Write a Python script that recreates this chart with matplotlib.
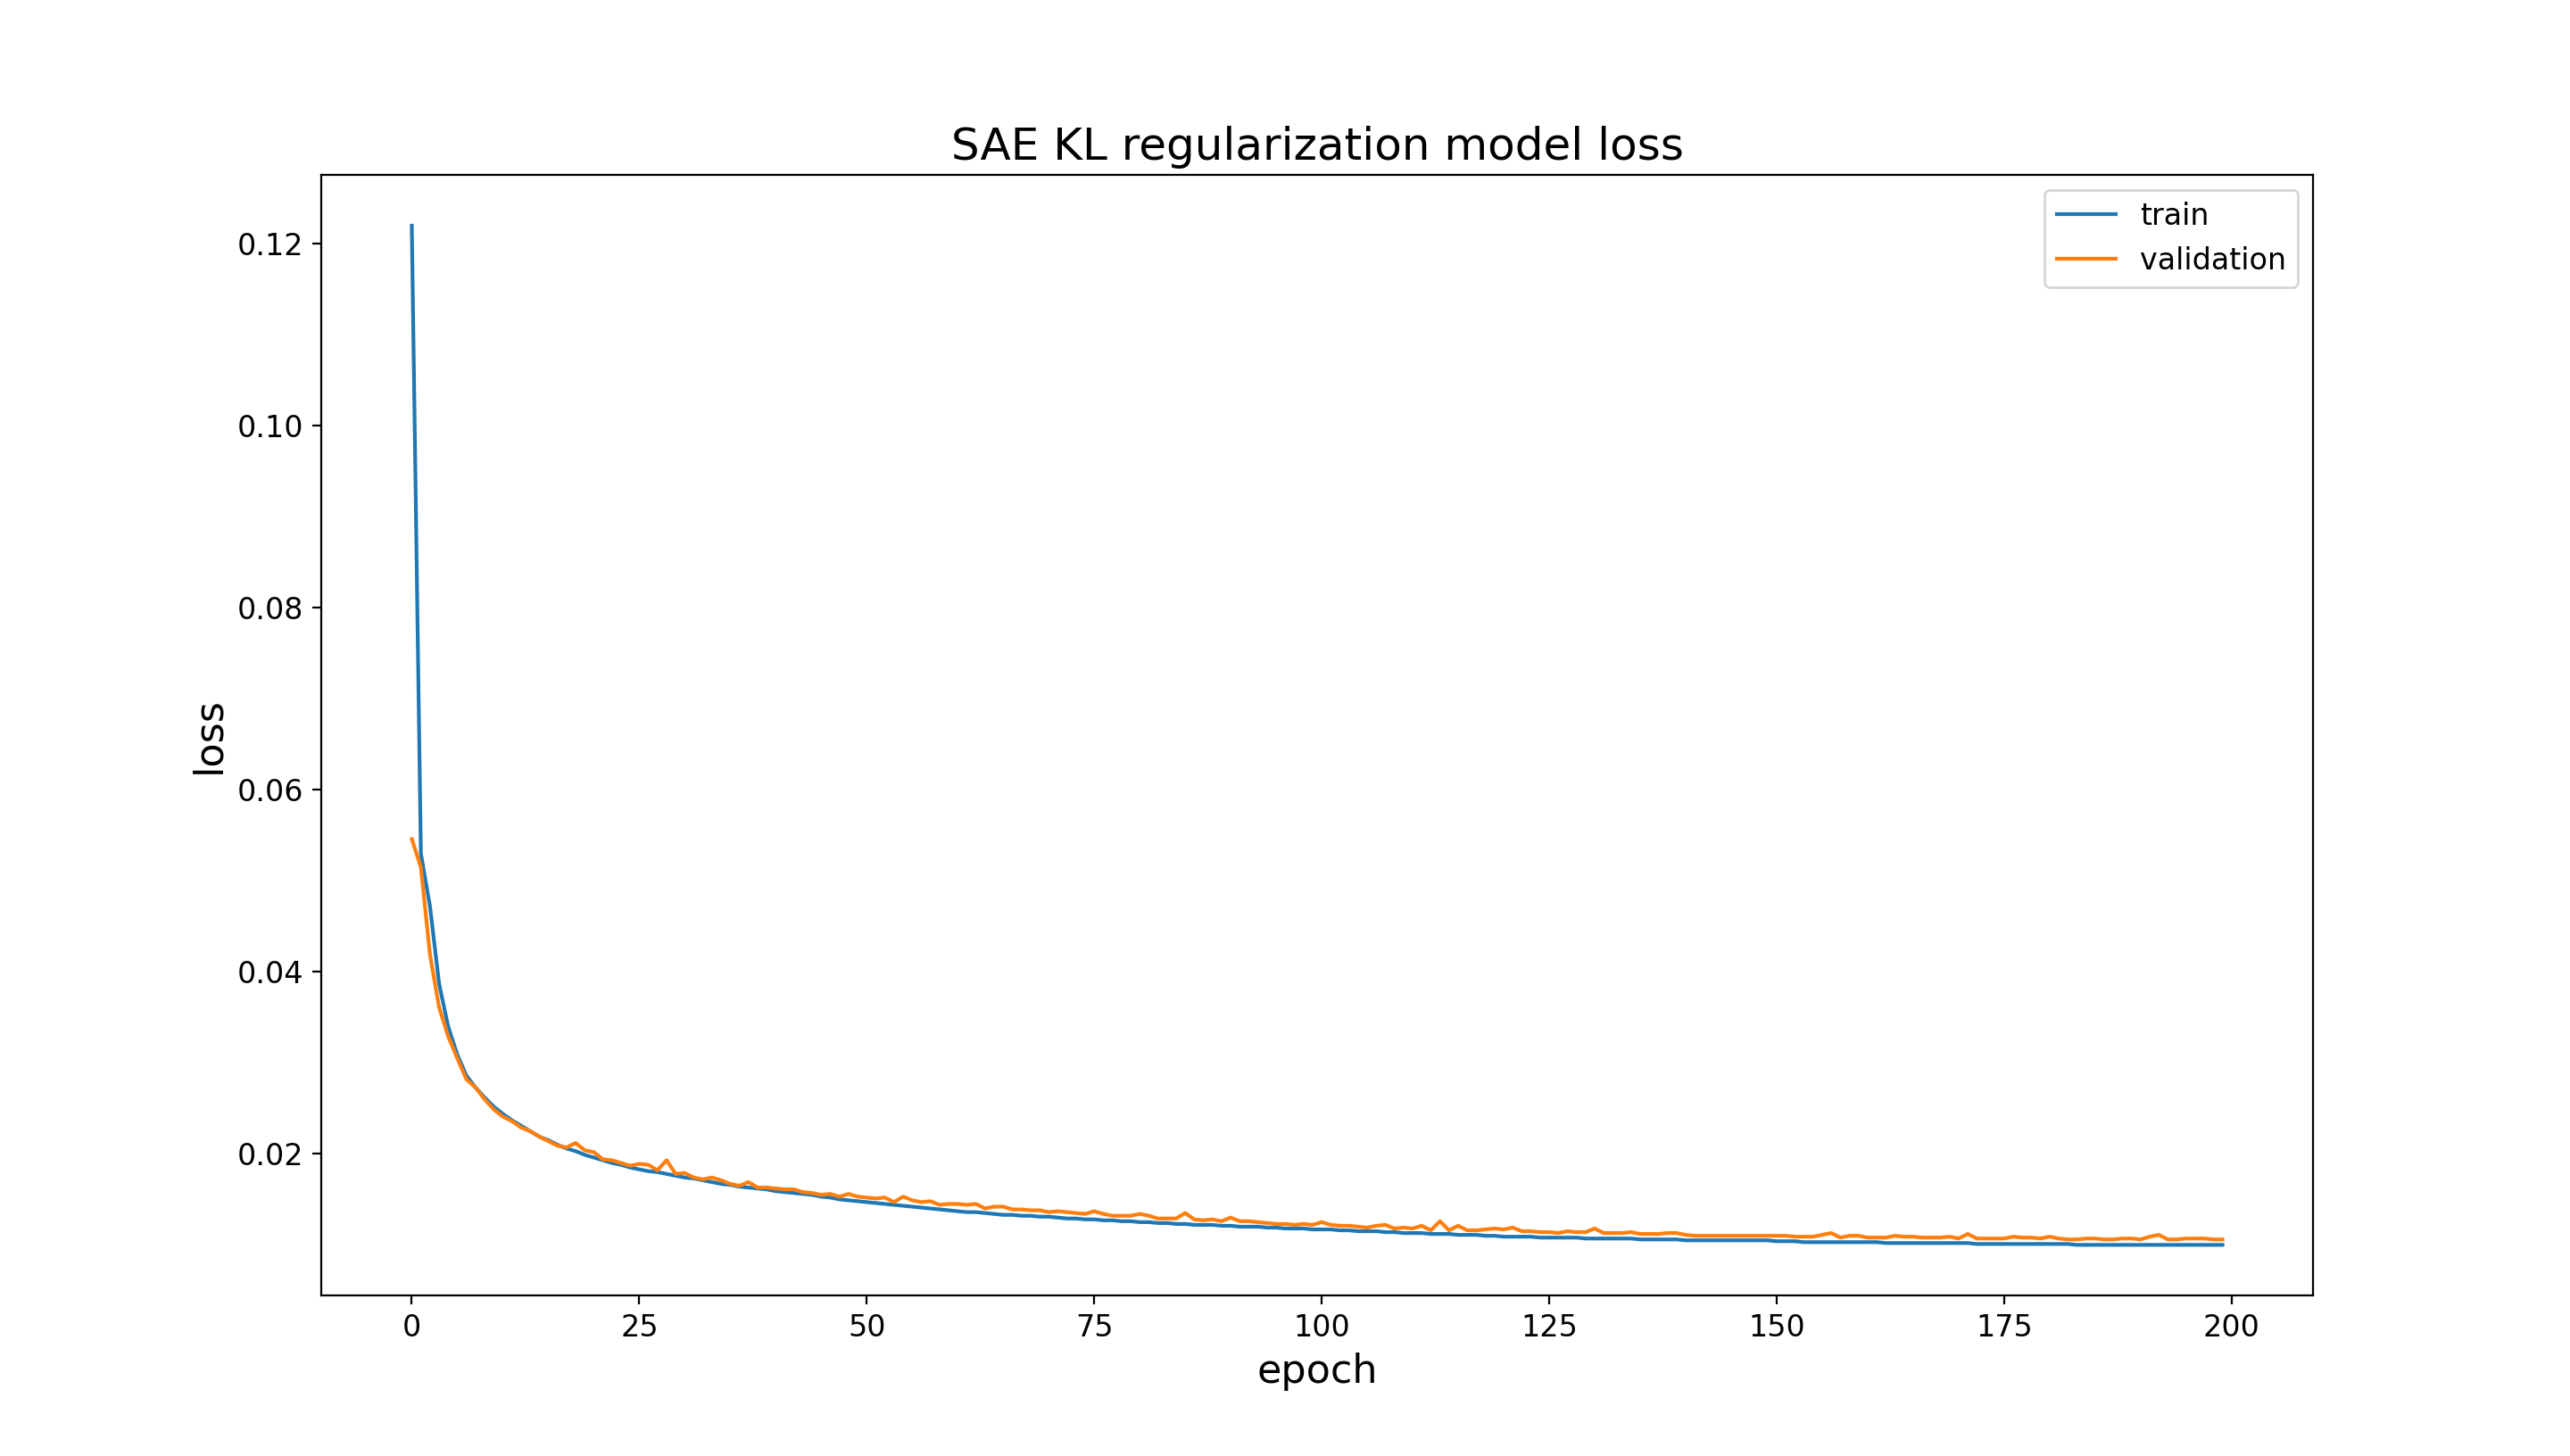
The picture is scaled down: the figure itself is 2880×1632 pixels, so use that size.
import matplotlib
matplotlib.use("Agg")
from matplotlib import pyplot as plt

# loss per epoch
train_loss = [
    0.1220, 0.0530, 0.0472, 0.0387, 0.0340, 0.0309, 0.0286, 0.0273, 0.0262, 0.0252,
    0.0244, 0.0237, 0.0231, 0.0225, 0.0219, 0.0215, 0.0210, 0.0206, 0.0203, 0.0199,
    0.0196, 0.0193, 0.0190, 0.0188, 0.0185, 0.0183, 0.0181, 0.0180, 0.0178, 0.0176,
    0.0174, 0.0173, 0.0171, 0.0169, 0.0167, 0.0166, 0.0164, 0.0163, 0.0162, 0.0161,
    0.0159, 0.0158, 0.0157, 0.0156, 0.0155, 0.0153, 0.0152, 0.0150, 0.0149, 0.0148,
    0.0147, 0.0146, 0.0145, 0.0144, 0.0143, 0.0142, 0.0141, 0.0140, 0.0139, 0.0138,
    0.0137, 0.0136, 0.0136, 0.0135, 0.0134, 0.0133, 0.0133, 0.0132, 0.0132, 0.0131,
    0.0131, 0.0130, 0.0129, 0.0129, 0.0128, 0.0128, 0.0127, 0.0127, 0.0126, 0.0126,
    0.0125, 0.0125, 0.0124, 0.0124, 0.0123, 0.0123, 0.0122, 0.0122, 0.0122, 0.0121,
    0.0121, 0.0120, 0.0120, 0.0120, 0.0119, 0.0119, 0.0118, 0.0118, 0.0118, 0.0117,
    0.0117, 0.0117, 0.0116, 0.0116, 0.0115, 0.0115, 0.0115, 0.0114, 0.0114, 0.0113,
    0.0113, 0.0113, 0.0112, 0.0112, 0.0112, 0.0111, 0.0111, 0.0111, 0.0110, 0.0110,
    0.0109, 0.0109, 0.0109, 0.0109, 0.0108, 0.0108, 0.0108, 0.0108, 0.0108, 0.0107,
    0.0107, 0.0107, 0.0107, 0.0107, 0.0107, 0.0106, 0.0106, 0.0106, 0.0106, 0.0106,
    0.0105, 0.0105, 0.0105, 0.0105, 0.0105, 0.0105, 0.0105, 0.0105, 0.0105, 0.0105,
    0.0104, 0.0104, 0.0104, 0.0103, 0.0103, 0.0103, 0.0103, 0.0103, 0.0103, 0.0103,
    0.0103, 0.0103, 0.0102, 0.0102, 0.0102, 0.0102, 0.0102, 0.0102, 0.0102, 0.0102,
    0.0102, 0.0102, 0.0101, 0.0101, 0.0101, 0.0101, 0.0101, 0.0101, 0.0101, 0.0101,
    0.0101, 0.0101, 0.0101, 0.0100, 0.0100, 0.0100, 0.0100, 0.0100, 0.0100, 0.0100,
    0.0100, 0.0100, 0.0100, 0.0100, 0.0100, 0.0100, 0.0100, 0.0100, 0.0100, 0.0100,
]

val_loss = [
    0.0546, 0.0515, 0.0419, 0.0361, 0.0329, 0.0305, 0.0282, 0.0273, 0.0260, 0.0249,
    0.0241, 0.0236, 0.0229, 0.0225, 0.0219, 0.0214, 0.0209, 0.0207, 0.0212, 0.0204,
    0.0202, 0.0194, 0.0193, 0.0190, 0.0187, 0.0189, 0.0188, 0.0182, 0.0193, 0.0178,
    0.0179, 0.0174, 0.0172, 0.0174, 0.0171, 0.0167, 0.0165, 0.0169, 0.0163, 0.0163,
    0.0162, 0.0161, 0.0161, 0.0158, 0.0157, 0.0155, 0.0156, 0.0153, 0.0156, 0.0153,
    0.0152, 0.0151, 0.0152, 0.0147, 0.0153, 0.0149, 0.0147, 0.0148, 0.0144, 0.0145,
    0.0145, 0.0144, 0.0145, 0.0140, 0.0142, 0.0142, 0.0139, 0.0139, 0.0138, 0.0138,
    0.0136, 0.0137, 0.0136, 0.0135, 0.0134, 0.0137, 0.0134, 0.0132, 0.0132, 0.0132,
    0.0134, 0.0132, 0.0129, 0.0129, 0.0129, 0.0135, 0.0128, 0.0127, 0.0128, 0.0126,
    0.0130, 0.0126, 0.0126, 0.0125, 0.0124, 0.0123, 0.0123, 0.0122, 0.0123, 0.0122,
    0.0125, 0.0122, 0.0121, 0.0121, 0.0120, 0.0119, 0.0121, 0.0122, 0.0118, 0.0119,
    0.0118, 0.0121, 0.0116, 0.0126, 0.0116, 0.0121, 0.0116, 0.0116, 0.0117, 0.0118,
    0.0117, 0.0119, 0.0115, 0.0115, 0.0114, 0.0114, 0.0113, 0.0115, 0.0114, 0.0114,
    0.0118, 0.0113, 0.0113, 0.0113, 0.0114, 0.0112, 0.0112, 0.0112, 0.0113, 0.0113,
    0.0111, 0.0110, 0.0110, 0.0110, 0.0110, 0.0110, 0.0110, 0.0110, 0.0110, 0.0110,
    0.0110, 0.0110, 0.0109, 0.0109, 0.0109, 0.0111, 0.0113, 0.0108, 0.0110, 0.0110,
    0.0108, 0.0108, 0.0108, 0.0110, 0.0109, 0.0109, 0.0108, 0.0108, 0.0108, 0.0109,
    0.0107, 0.0112, 0.0107, 0.0107, 0.0107, 0.0107, 0.0109, 0.0108, 0.0108, 0.0107,
    0.0109, 0.0107, 0.0106, 0.0106, 0.0107, 0.0107, 0.0106, 0.0106, 0.0107, 0.0107,
    0.0106, 0.0109, 0.0111, 0.0106, 0.0106, 0.0107, 0.0107, 0.0107, 0.0106, 0.0106,
]

epochs = list(range(len(train_loss)))

fig = plt.figure(figsize=(14.4, 8.16), dpi=200)
plt.plot(epochs, train_loss)
plt.plot(epochs, val_loss)

plt.title("SAE KL regularization model loss", fontsize=18)
plt.xlabel("epoch", fontsize=16)
plt.ylabel("loss", fontsize=16)
plt.tick_params(axis='both', which='major', labelsize=12)
plt.legend(['train', 'validation'], loc='upper right', fontsize=12)

plt.savefig("out.png", dpi=200)
